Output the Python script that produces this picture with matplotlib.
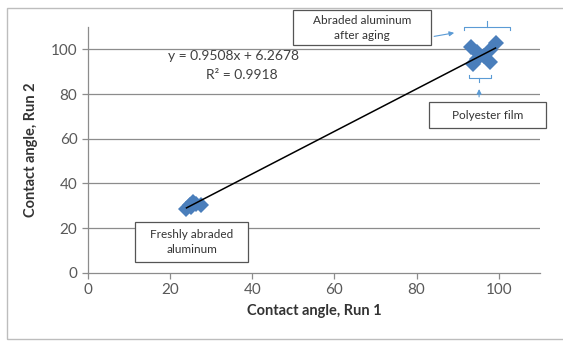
import matplotlib
matplotlib.use("Agg")
import matplotlib.pyplot as plt
from matplotlib.patches import Rectangle

# Contact angle readings (run 1 vs run 2)
fresh_run1 = [24.0, 24.8, 25.6, 26.4, 27.6, 25.0]
fresh_run2 = [28.5, 30.5, 31.8, 31.0, 30.5, 29.5]
aged_run1 = [93.2, 94.8, 96.3, 97.8, 99.2, 94.8, 93.6, 97.8]
aged_run2 = [101.2, 98.8, 97.0, 99.5, 103.0, 95.5, 93.3, 94.2]

slope = 0.9508
intercept = 6.2678
r_squared = 0.9918

xticks = [0, 20, 40, 60, 80, 100]
yticks = [0, 20, 40, 60, 80, 100]

plt.rcParams["font.family"] = ["Lato", "DejaVu Sans"]

fig = plt.figure(figsize=(5.63, 3.42), dpi=100)
ax = fig.add_axes([0.156, 0.202, 0.803, 0.719])

# outer chart frame
fig.patches.append(Rectangle((7 / 563, 3 / 342), 1.0, 331 / 342, transform=fig.transFigure,
                             fill=False, edgecolor="#bdbdbd", lw=1.0))

grid_c = "#8c8c8c"
ax.set_xlim(0, 110)
ax.set_ylim(0, 110)
ax.set_xticks(xticks)
ax.set_yticks(yticks)
for y in yticks[1:]:
    ax.axhline(y, color=grid_c, lw=0.9, zorder=1)
for s in ["top", "right"]:
    ax.spines[s].set_visible(False)
for s in ["left", "bottom"]:
    ax.spines[s].set_color(grid_c)
    ax.spines[s].set_linewidth(0.9)
ax.tick_params(colors=grid_c, labelcolor="#595959", labelsize=11, length=4, width=0.9)
ax.set_xlabel("Contact angle, Run 1", fontsize=10.5, fontweight="bold", color="#333333", labelpad=5)
ax.set_ylabel("Contact angle, Run 2", fontsize=10.5, fontweight="bold", color="#333333", labelpad=9)

blue = "#4a7ebb"
ax.plot(fresh_run1 + aged_run1, fresh_run2 + aged_run2, "D", color=blue, markersize=8.5,
        markeredgewidth=0, zorder=3)

xs = fresh_run1 + aged_run1
x0, x1 = min(xs), max(xs)
ax.plot([x0, x1], [slope * x0 + intercept, slope * x1 + intercept], color="black", lw=1.1, zorder=4)

ax.text(35.5, 97, f"y = {slope}x + {intercept}", ha="center", va="center", fontsize=10, color="#404040")
ax.text(37.5, 88.5, f"R² = {r_squared}", ha="center", va="center", fontsize=10, color="#404040")


def label_box(x0, x1, y0, y1, text):
    ax.add_patch(Rectangle((x0, y0), x1 - x0, y1 - y0, fc="white", ec="#555555", lw=0.9,
                           clip_on=False, zorder=5))
    ax.text((x0 + x1) / 2, (y0 + y1) / 2, text, ha="center", va="center", fontsize=8.5,
            color="#333333", linespacing=1.5, clip_on=False, zorder=6)


label_box(50.0, 83.4, 101.8, 117.4, "Abraded aluminum\nafter aging")
label_box(82.9, 111.5, 64.7, 76.3, "Polyester film")
label_box(11.5, 39.0, 4.9, 22.8, "Freshly abraded\naluminum")

light = "#5b9bd5"
# upper bracket + arrow
ax.plot([91.5, 91.5, 102.8, 102.8], [108.5, 109.8, 109.8, 108.5], color=light, lw=0.8, clip_on=False)
ax.plot([97.2, 97.2], [109.8, 112.5], color=light, lw=0.8, clip_on=False)
ax.annotate("", xy=(89.8, 107.6), xytext=(83.6, 105.6),
            arrowprops=dict(arrowstyle="-|>", color=light, lw=0.8, mutation_scale=7), annotation_clip=False)
# lower bracket + arrow
ax.plot([92.7, 92.7, 98.2, 98.2], [88.5, 87.3, 87.3, 88.5], color=light, lw=0.8)
ax.annotate("", xy=(95.2, 83.5), xytext=(95.2, 77.5),
            arrowprops=dict(arrowstyle="-|>", color=light, lw=0.8, mutation_scale=7))
ax.plot([95.2, 95.2], [87.3, 85.5], color=light, lw=0.8)

fig.savefig("out.png", dpi=100)
